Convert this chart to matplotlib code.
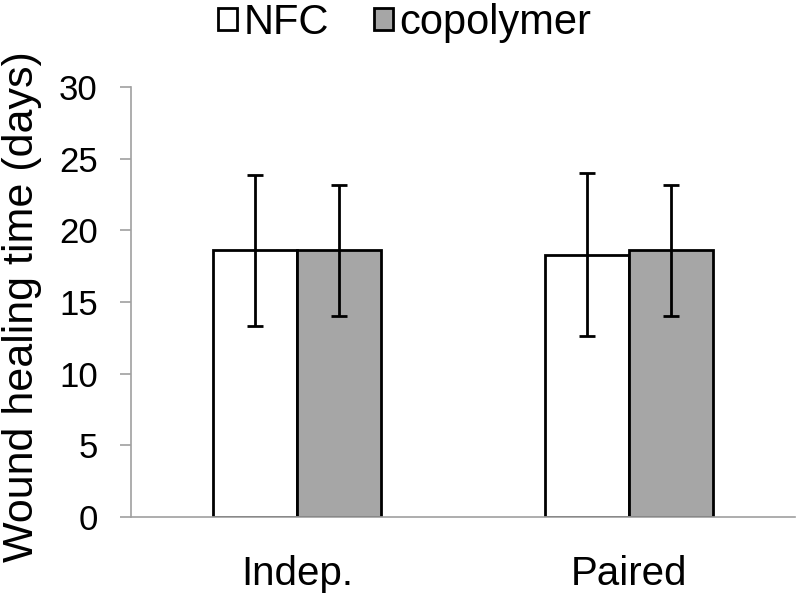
import matplotlib.pyplot as plt
import numpy as np

plt.rcParams['font.family'] = ['Liberation Sans', 'DejaVu Sans']

groups = ['Indep.', 'Paired']
nfc = [18.6, 18.3]
nfc_err = [5.25, 5.7]
copoly = [18.6, 18.6]
copoly_err = [4.55, 4.55]

fig = plt.figure(figsize=(8, 5.95), dpi=100)
ax = fig.add_axes([0.164, 0.131, 0.830, 0.723])

x = np.arange(len(groups))
w = 0.253
ekw = dict(ecolor='black', elinewidth=2, capsize=5.5, capthick=2)
ax.bar(x - w/2, nfc, w, yerr=nfc_err, color='white', edgecolor='black',
       linewidth=2, label='NFC', error_kw=ekw)
ax.bar(x + w/2, copoly, w, yerr=copoly_err, color='#a6a6a6', edgecolor='black',
       linewidth=2, label='copolymer', error_kw=ekw)

ax.set_xlim(-0.5, 1.5)
ax.set_ylim(0, 30)
ax.set_yticks(range(0, 31, 5))
ax.set_xticks(x)
ax.set_xticklabels(groups)
ax.tick_params(axis='y', labelsize=25, length=8, color='#a0a0a0', width=1.2, pad=16)
ax.tick_params(axis='x', labelsize=29, length=0, pad=27)
for s in ['top', 'right']:
    ax.spines[s].set_visible(False)
ax.spines['left'].set_color('#a0a0a0')
ax.spines['bottom'].set_color('#a0a0a0')
ax.spines['left'].set_linewidth(1.2)
ax.spines['bottom'].set_linewidth(1.2)
ax.set_ylabel('Wound healing time (days)', fontsize=31)
ax.yaxis.set_label_coords(-0.134, 0.488)

fig.legend(loc='center', bbox_to_anchor=(0.506, 0.962), ncol=2, frameon=False,
           fontsize=30, handlelength=0.45, handleheight=0.45, handletextpad=0.15,
           columnspacing=1.1)

fig.savefig('out.png', dpi=100)
